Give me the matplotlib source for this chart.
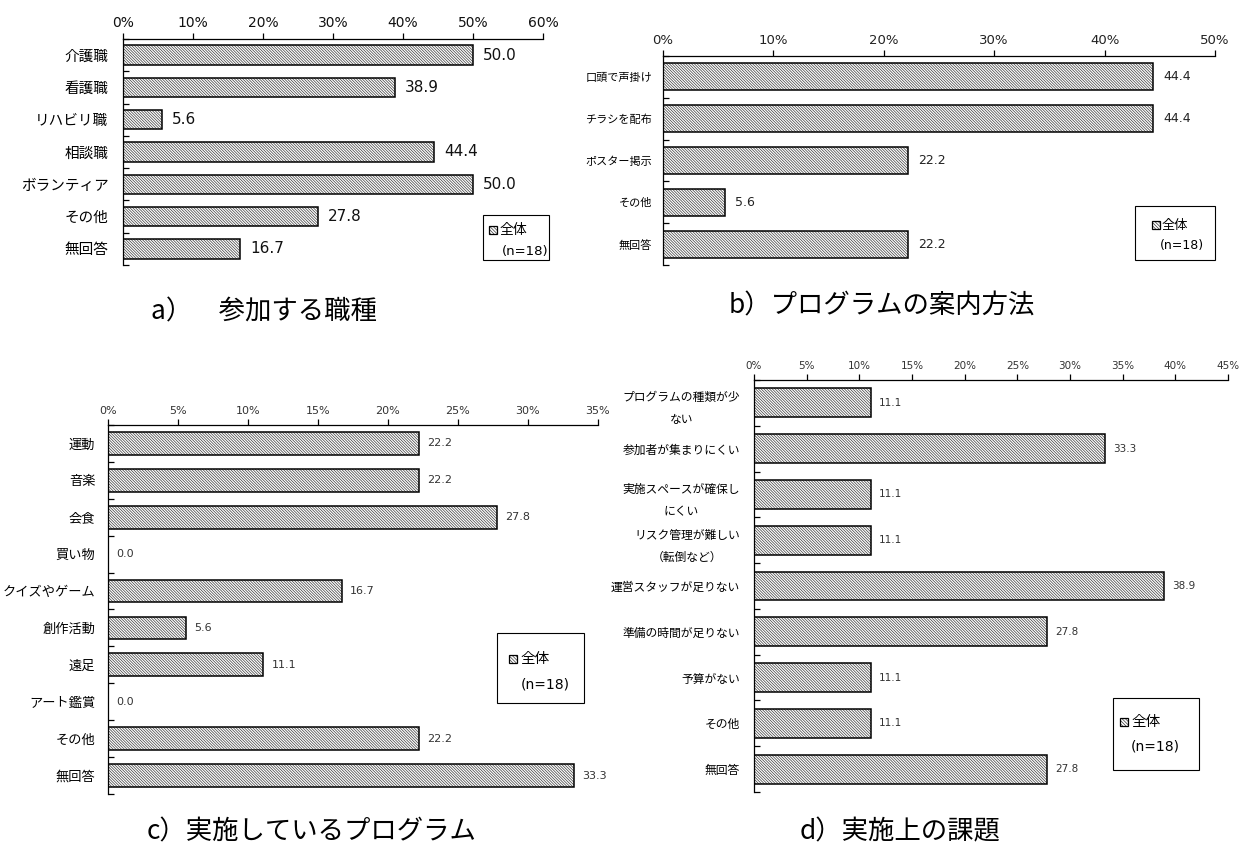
import matplotlib
matplotlib.use("Agg")
import matplotlib.pyplot as plt
from matplotlib.patches import Rectangle
import numpy as np

plt.rcParams['font.family'] = ['DejaVu Sans', 'Noto Sans CJK JP']
plt.rcParams['hatch.linewidth'] = 0.5

JP = ['Noto Sans CJK JP', 'DejaVu Sans']
NUM = ['DejaVu Sans', 'Noto Sans CJK JP']

# ---------------- data ----------------
a_cats = ["介護職", "看護職", "リハビリ職", "相談職", "ボランティア", "その他", "無回答"]
a_vals = [50.0, 38.9, 5.6, 44.4, 50.0, 27.8, 16.7]
a_ticks = [0, 10, 20, 30, 40, 50, 60]

b_cats = ["口頭で声掛け", "チラシを配布", "ポスター掲示", "その他", "無回答"]
b_vals = [44.4, 44.4, 22.2, 5.6, 22.2]
b_ticks = [0, 10, 20, 30, 40, 50]

c_cats = ["運動", "音楽", "会食", "買い物", "クイズやゲーム", "創作活動", "遠足",
          "アート鑑賞", "その他", "無回答"]
c_vals = [22.2, 22.2, 27.8, 0.0, 16.7, 5.6, 11.1, 0.0, 22.2, 33.3]
c_ticks = [0, 5, 10, 15, 20, 25, 30, 35]

d_cats = ["プログラムの種類が少\nない", "参加者が集まりにくい", "実施スペースが確保し\nにくい",
          "リスク管理が難しい\n（転倒など）", "運営スタッフが足りない", "準備の時間が足りない",
          "予算がない", "その他", "無回答"]
d_vals = [11.1, 33.3, 11.1, 11.1, 38.9, 27.8, 11.1, 11.1, 27.8]
d_ticks = [0, 5, 10, 15, 20, 25, 30, 35, 40, 45]

legend_label = "全体"
legend_n = "(n=18)"
captions = ["a）　参加する職種", "b）プログラムの案内方法",
            "c）実施しているプログラム", "d）実施上の課題"]

# ---------------- layout ----------------
W, H = 1239, 850
fig = plt.figure(figsize=(W / 100, H / 100), dpi=100)
fig.patch.set_facecolor('white')


def rect(x0, x1, y0, y1):
    return [x0 / W, 1 - y1 / H, (x1 - x0) / W, (y1 - y0) / H]


HATCH = '\\' * 12


def panel(r, cats, vals, ticks, bar_h, lab_fs, tick_fs, val_fs, lab_pad,
          val_off, tcol, vcol, linespacing=1.2):
    ax = fig.add_axes(rect(*r))
    y = np.arange(len(cats))
    ax.barh(y, vals, height=bar_h, color='white', edgecolor='#3c3c3c',
            linewidth=0, hatch=HATCH, zorder=2)
    ax.barh(y, vals, height=bar_h, fill=False, edgecolor='black',
            linewidth=1.1, zorder=3)
    ax.set_xlim(ticks[0], ticks[-1])
    ax.set_ylim(len(cats) - 0.5, -0.5)
    ax.xaxis.tick_top()
    ax.set_xticks(ticks)
    ax.set_xticklabels([f"{t}%" for t in ticks], fontsize=tick_fs, color=tcol,
                       family=NUM)
    ax.tick_params(axis='x', direction='out', length=4, width=0.9, pad=2.5,
                   top=True, bottom=False)
    ax.set_yticks(y)
    ax.set_yticklabels(cats, fontsize=lab_fs, family=JP, color='black',
                       linespacing=linespacing, multialignment='center')
    ax.tick_params(axis='y', which='major', length=0, pad=lab_pad)
    ax.set_yticks(np.arange(len(cats) + 1) - 0.5, minor=True)
    ax.tick_params(axis='y', which='minor', direction='in', length=4, width=0.9)
    for s in ['right', 'bottom']:
        ax.spines[s].set_visible(False)
    for s in ['top', 'left']:
        ax.spines[s].set_linewidth(0.9)
    for yi, v in zip(y, vals):
        ax.annotate(f"{v:.1f}", (v, yi), xytext=(val_off, 0),
                    textcoords='offset pixels', ha='left', va='center',
                    fontsize=val_fs, color=vcol, family=NUM)
    ax.set_facecolor('none')
    return ax


panel((123, 543, 39, 265), a_cats, a_vals, a_ticks, 0.6, 10.5, 10, 11, 10.5,
      10, '#111111', '#111111')
panel((663, 1215, 56, 265), b_cats, b_vals, b_ticks, 0.65, 8, 9.5, 9, 8,
      10, '#222222', '#222222')
panel((108, 598, 425, 794), c_cats, c_vals, c_ticks, 0.62, 9.5, 8, 8, 9,
      8, '#333333', '#333333')
panel((754, 1228, 380, 792), d_cats, d_vals, d_ticks, 0.63, 8.5, 7.5, 7.5, 10,
      8, '#333333', '#333333', linespacing=1.9)


def legend(box, hx, hy, tx, ty, nx, ny, fs):
    x0, x1, y0, y1 = box
    fig.add_artist(Rectangle((x0 / W, 1 - y1 / H), (x1 - x0) / W, (y1 - y0) / H,
                             transform=fig.transFigure, fill=False,
                             edgecolor='black', linewidth=0.8))
    s = 8
    fig.add_artist(Rectangle((hx / W, 1 - (hy + s / 2) / H), s / W, s / H,
                             transform=fig.transFigure, facecolor='white',
                             edgecolor='#3c3c3c', linewidth=0, hatch='\\' * 10))
    fig.add_artist(Rectangle((hx / W, 1 - (hy + s / 2) / H), s / W, s / H,
                             transform=fig.transFigure, fill=False,
                             edgecolor='black', linewidth=0.9))
    fig.text(tx / W, 1 - ty / H, legend_label, fontsize=fs, family=JP,
             ha='left', va='center')
    fig.text(nx / W, 1 - ny / H, legend_n, fontsize=fs - 0.5, family=NUM,
             ha='left', va='center')


legend((483, 549, 215, 260), 489, 230, 500, 230, 502, 252, 10)
legend((1135, 1215, 206, 260), 1152, 225, 1162, 225, 1160, 245, 9.5)
legend((497, 584, 633, 703), 509, 659, 520, 659, 521, 684, 10.5)
legend((1113, 1199, 698, 770), 1120, 722, 1131, 722, 1131, 746, 10.5)

cap_pos = [(151, 312), (729, 306), (147, 832), (800, 832)]
for txt, (lx, cy) in zip(captions, cap_pos):
    fig.text(lx / W, 1 - cy / H, txt, fontsize=19, family=JP, ha='left',
             va='center')

fig.savefig("out.png", dpi=100, facecolor='white')
